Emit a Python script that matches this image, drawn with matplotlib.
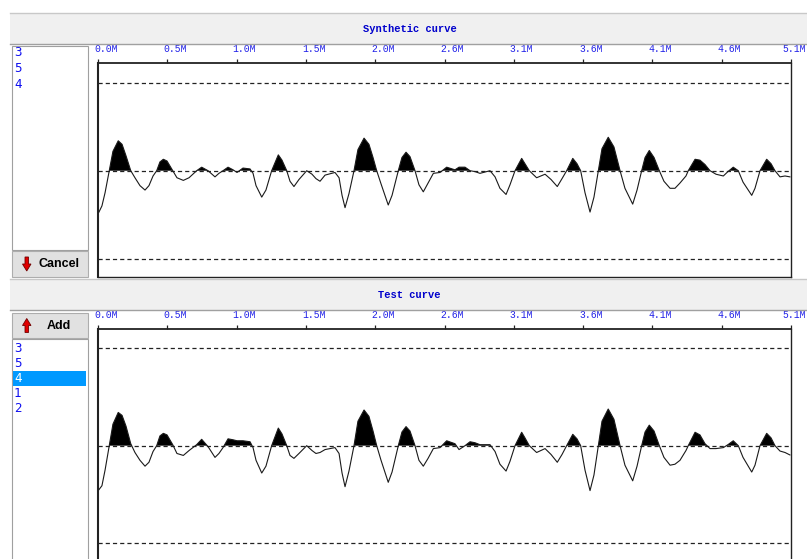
import matplotlib
matplotlib.use('Agg')
import matplotlib.pyplot as plt
from matplotlib.patches import Rectangle, Polygon
import numpy as np

plt.rcParams['lines.scale_dashes'] = False

# ---------------- data ----------------
x_m = [0.007, 0.029, 0.052, 0.083, 0.110, 0.149, 0.177, 0.206, 0.241, 0.272,
       0.309, 0.346, 0.375, 0.405, 0.432, 0.456, 0.481, 0.508, 0.550, 0.581,
       0.628, 0.670, 0.726, 0.763, 0.810, 0.861, 0.890, 0.920, 0.957, 0.994,
       1.023, 1.067, 1.119, 1.141, 1.163, 1.205, 1.236, 1.278, 1.327, 1.354,
       1.389, 1.413, 1.442, 1.479, 1.536, 1.575, 1.604, 1.634, 1.671, 1.744,
       1.774, 1.796, 1.818, 1.847, 1.884, 1.913, 1.958, 1.994, 2.024, 2.051,
       2.083, 2.136, 2.164, 2.210, 2.237, 2.267, 2.296, 2.333, 2.362, 2.394,
       2.429, 2.468, 2.517, 2.566, 2.627, 2.657, 2.701, 2.738, 2.774, 2.811,
       2.885, 2.922, 2.958, 3.003, 3.032, 3.069, 3.118, 3.142, 3.174, 3.228,
       3.290, 3.334, 3.380, 3.415, 3.449, 3.494, 3.525, 3.552, 3.584, 3.621,
       3.650, 3.682, 3.709, 3.755, 3.797, 3.842, 3.878, 3.935, 3.967, 4.001,
       4.026, 4.057, 4.092, 4.131, 4.165, 4.210, 4.246, 4.283, 4.327, 4.344,
       4.394, 4.430, 4.467, 4.504, 4.548, 4.602, 4.636, 4.675, 4.712, 4.747,
       4.811, 4.835, 4.872, 4.921, 4.953, 4.982, 5.019, 5.056, 5.092]

synthetic = [-0.47, -0.40, -0.25, 0.0, 0.22, 0.34, 0.30, 0.17, 0.0, -0.08,
             -0.17, -0.22, -0.17, -0.06, 0.0, 0.10, 0.13, 0.11, 0.0, -0.08,
             -0.11, -0.08, 0.0, 0.04, 0.0, -0.07, -0.03, 0.0, 0.04, 0.01,
             -0.02, 0.03, 0.02, -0.03, -0.17, -0.30, -0.22, 0.0, 0.18, 0.12,
             0.0, -0.12, -0.18, -0.10, 0.0, -0.04, -0.09, -0.12, -0.05, -0.02,
             -0.08, -0.28, -0.42, -0.26, 0.0, 0.24, 0.37, 0.30, 0.15, 0.0,
             -0.15, -0.39, -0.28, 0.0, 0.15, 0.21, 0.16, 0.0, -0.16, -0.24,
             -0.14, -0.03, -0.02, 0.04, 0.01, 0.04, 0.04, 0.0, -0.01, -0.03,
             0.0, -0.07, -0.20, -0.27, -0.16, 0.0, 0.14, 0.08, 0.0, -0.08,
             -0.04, -0.10, -0.18, -0.09, 0.0, 0.14, 0.08, 0.0, -0.25, -0.47,
             -0.30, 0.0, 0.25, 0.38, 0.27, 0.0, -0.20, -0.38, -0.22, 0.0,
             0.15, 0.23, 0.15, 0.0, -0.12, -0.20, -0.20, -0.14, -0.06, 0.0,
             0.13, 0.12, 0.07, 0.0, -0.04, -0.06, -0.01, 0.04, 0.0, -0.13,
             -0.28, -0.20, 0.0, 0.13, 0.08, 0.0, -0.07, -0.06, -0.07]

test = [-0.45, -0.41, -0.25, 0.0, 0.22, 0.34, 0.31, 0.20, 0.02, -0.07,
        -0.15, -0.21, -0.17, -0.06, 0.0, 0.10, 0.126, 0.11, 0.01, -0.08,
        -0.10, -0.05, 0.01, 0.065, -0.01, -0.12, -0.08, -0.02, 0.07, 0.06,
        0.05, 0.05, 0.04, -0.02, -0.15, -0.28, -0.21, 0.0, 0.18, 0.12,
        0.0, -0.10, -0.13, -0.08, 0.0, -0.05, -0.08, -0.07, -0.04, -0.02,
        -0.08, -0.28, -0.42, -0.26, 0.0, 0.25, 0.365, 0.30, 0.15, 0.0,
        -0.15, -0.375, -0.27, 0.0, 0.14, 0.195, 0.15, 0.0, -0.15, -0.21,
        -0.13, -0.03, -0.02, 0.05, 0.02, -0.04, 0.0, 0.04, 0.03, 0.01,
        0.01, -0.06, -0.19, -0.26, -0.16, 0.0, 0.137, 0.08, 0.0, -0.07,
        -0.03, -0.09, -0.17, -0.09, 0.0, 0.116, 0.07, 0.0, -0.25, -0.46,
        -0.30, 0.0, 0.25, 0.375, 0.27, 0.0, -0.20, -0.36, -0.21, 0.0,
        0.14, 0.21, 0.15, 0.0, -0.12, -0.20, -0.19, -0.15, -0.05, 0.0,
        0.137, 0.11, 0.02, -0.03, -0.03, -0.02, 0.01, 0.05, 0.0, -0.12,
        -0.27, -0.20, 0.0, 0.126, 0.08, 0.0, -0.055, -0.07, -0.095]

tick_vals = [0.0, 0.51, 1.02, 1.53, 2.04, 2.55, 3.06, 3.57, 4.08, 4.59, 5.10]
tick_labels = ['0.0M', '0.5M', '1.0M', '1.5M', '2.0M', '2.6M', '3.1M',
               '3.6M', '4.1M', '4.6M', '5.1M']
ref_levels = [-1.0, 0.0, 1.0]
list_top = ['3', '5', '4']
list_bottom = ['3', '5', '4', '1', '2']
selected_bottom = '4'
title_top = 'Synthetic curve'
title_bottom = 'Test curve'

# ---------------- figure ----------------
W, H = 807, 559
fig = plt.figure(figsize=(W / 100, H / 100), dpi=100)
fig.patch.set_facecolor('white')


def rect(x0, y0, x1, y1, fc, ec='none', lw=0.0, z=1):
    fig.patches.append(Rectangle((x0 / W, 1 - y1 / H), (x1 - x0) / W, (y1 - y0) / H,
                                 transform=fig.transFigure, fc=fc, ec=ec, lw=lw,
                                 zorder=z))


def hline(y, x0, x1, color, lw=1.0):
    fig.add_artist(plt.Line2D([x0 / W, x1 / W], [1 - y / H, 1 - y / H],
                              transform=fig.transFigure, color=color, lw=lw))


def poly(pts, fc, ec):
    fig.patches.append(Polygon([(px / W, 1 - py / H) for px, py in pts], closed=True,
                               transform=fig.transFigure, fc=fc, ec=ec, lw=0.6,
                               zorder=3))


# header bands
rect(10, 13, W, 44, '#F0F0F0')
hline(12.5, 10, W, '#C8C8C8')
hline(44, 10, W, '#A0A0A0')
rect(10, 279, W, 310, '#F0F0F0')
hline(279, 10, W, '#C8C8C8')
hline(310, 10, W, '#A0A0A0')

mono = ['Liberation Mono', 'DejaVu Sans Mono']
fig.text(410 / W, 1 - 29.5 / H, title_top, ha='center', va='center', family=mono,
         weight='bold', size=7.5, color='#0000CC')
fig.text(409 / W, 1 - 295.5 / H, title_bottom, ha='center', va='center', family=mono,
         weight='bold', size=7.5, color='#0000CC')

# list boxes
rect(12, 46, 88, 250, 'white', '#A0A0A0', 0.8)
for i, s in enumerate(list_top):
    fig.text(14 / W, 1 - (53 + 15.5 * i) / H, s, ha='left', va='center',
             family='DejaVu Sans Mono', size=9, color='#1010F0')

rect(12, 339, 88, 570, 'white', '#A0A0A0', 0.8)
for i, s in enumerate(list_bottom):
    yc = 349 + 14.8 * i
    col = '#1010F0'
    if s == selected_bottom:
        rect(13, yc - 7.5, 86, yc + 7, '#0099FF', z=2)
        col = 'white'
    fig.text(14 / W, 1 - yc / H, s, ha='left', va='center',
             family='DejaVu Sans Mono', size=9, color=col, zorder=4)

# buttons
rect(12, 251, 88, 277, '#E1E1E1', '#ADADAD', 0.8)
fig.text(59 / W, 1 - 264.5 / H, 'Cancel', ha='center', va='center',
         family=['Liberation Sans', 'DejaVu Sans'], weight='bold', size=9, color='black')
poly([(25, 257), (28.5, 257), (28.5, 264), (31, 264), (26.75, 271), (22.5, 264), (25, 264)],
     '#E00000', '#700000')

rect(12, 313, 88, 338, '#E1E1E1', '#ADADAD', 0.8)
fig.text(59 / W, 1 - 326 / H, 'Add', ha='center', va='center',
         family=['Liberation Sans', 'DejaVu Sans'], weight='bold', size=9, color='black')
poly([(26.75, 318.5), (31, 325.5), (28.5, 325.5), (28.5, 332.5), (25, 332.5), (25, 325.5),
      (22.5, 325.5)], '#E00000', '#700000')

# plot panels
ax1 = fig.add_axes([98 / W, 1 - 277 / H, 693 / W, 214 / H])
ax2 = fig.add_axes([98 / W, 0, 693 / W, (H - 329) / H])


def panel(ax, yvals, ylim, show_bottom=True):
    yv = np.array(yvals)
    ax.set_xlim(0, 5.1)
    ax.set_ylim(*ylim)
    for lv in ref_levels:
        ax.axhline(lv, color='#222222', lw=0.9, ls=(0, (3, 2.2)), zorder=1)
    ax.fill_between(x_m, yv, 0, where=yv > 0, interpolate=True, color='black',
                    lw=0, zorder=2)
    ax.plot(x_m, yv, color='#1a1a1a', lw=0.8, zorder=3)
    ax.xaxis.tick_top()
    ax.set_xticks(tick_vals)
    ax.set_xticklabels([])
    ax.tick_params(axis='x', length=3, width=0.9, direction='out', top=True,
                   bottom=False, color='#222222')
    ax.set_yticks([])
    for sp in ax.spines.values():
        sp.set_color('#222222')
        sp.set_linewidth(1.0)
    ax.spines['left'].set_linewidth(1.5)
    ax.spines['top'].set_linewidth(1.3)
    if not show_bottom:
        ax.spines['bottom'].set_visible(False)
    n = len(tick_vals)
    for i, (t, lab) in enumerate(zip(tick_vals, tick_labels)):
        if i == n - 1:
            ax.annotate(lab, xy=(t, 1), xycoords=('data', 'axes fraction'),
                        xytext=(15, 9), textcoords='offset pixels', ha='right',
                        va='bottom', family=mono, size=7, color='#2020E8',
                        annotation_clip=False)
        else:
            ax.annotate(lab, xy=(t, 1), xycoords=('data', 'axes fraction'),
                        xytext=(-4, 9), textcoords='offset pixels', ha='left',
                        va='bottom', family=mono, size=7, color='#2020E8',
                        annotation_clip=False)


panel(ax1, synthetic, (-1.208, 1.224))
panel(ax2, test, (-1.16, 1.194), show_bottom=False)

fig.savefig('out.png', dpi=100)
